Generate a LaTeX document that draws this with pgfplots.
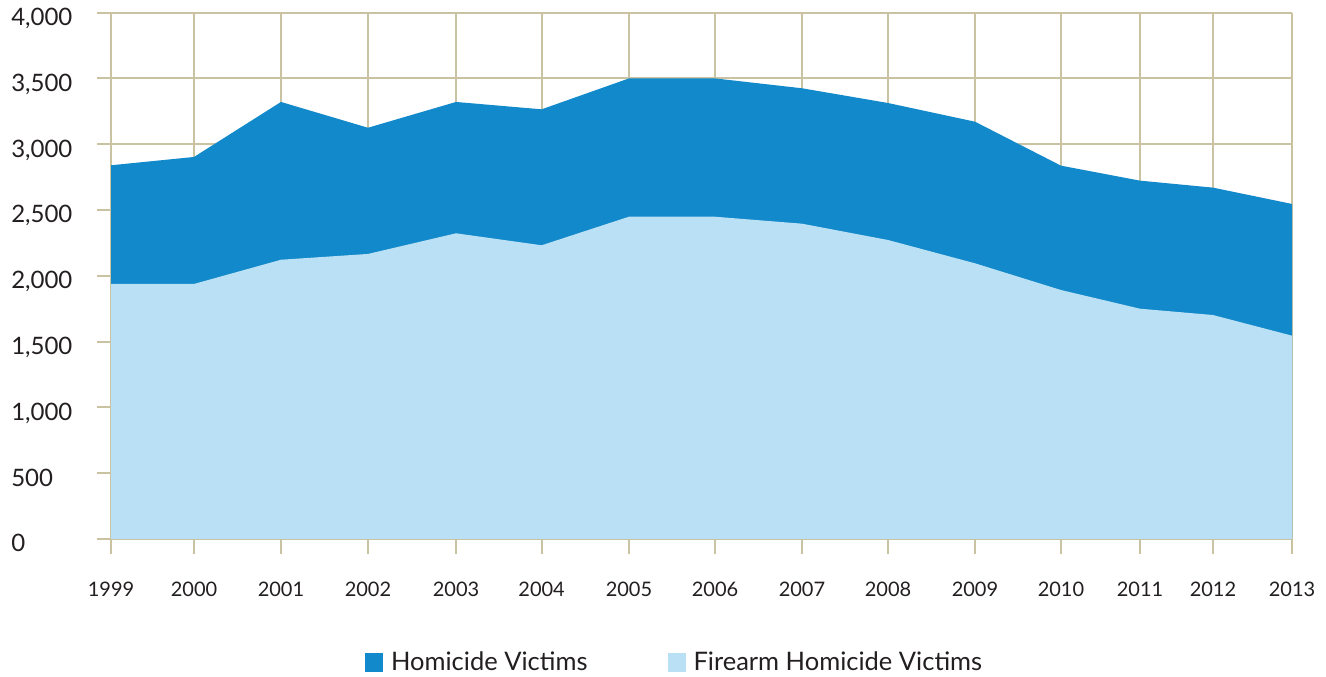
\documentclass[border=0pt]{standalone}
\usepackage{fontspec}
\setmainfont{Lato}
\usepackage{pgfplots}
\pgfplotsset{compat=1.18}
\definecolor{darkblue}{HTML}{1289CA}
\definecolor{lightblue}{HTML}{BAE0F5}
\definecolor{gridtan}{HTML}{C9C3A1}
\definecolor{txt}{HTML}{231F20}
\pgfplotstableread{
x        hom   fire
1999.000 2840  1938
1999.984 2903  1938
2001.015 3321  2122
2002.046 3125  2166
2003.090 3321  2323
2004.105 3265  2232
2005.140 3500  2449
2006.160 3500  2449
2007.191 3425  2396
2008.211 3313  2272
2009.242 3171  2095
2010.261 2837  1892
2011.198 2723  1750
2012.063 2670  1702
2013.000 2546  1545
}\datatable
\begin{document}
\begin{tikzpicture}
\useasboundingbox (0,0) rectangle (1326pt,677pt);
\begin{axis}[
  at={(97pt,138pt)}, anchor=south west,
  scale only axis, width=1195pt, height=526.4pt,
  xmin=1998.834, xmax=2013, ymin=0, ymax=4000,
  xtick={1999.000,1999.984,2001.015,2002.046,2003.090,2004.105,2005.140,2006.160,2007.191,2008.211,2009.242,2010.261,2011.198,2012.063,2013.000},
  xticklabels={1999,2000,2001,2002,2003,2004,2005,2006,2007,2008,2009,2010,2011,2012,2013},
  ytick={0,500,...,4000},
  grid=major,
  grid style={draw=gridtan, line width=2pt},
  axis line style={draw=none},
  xtick pos=left, ytick pos=left,
  tick align=outside,
  major tick length=15pt,
  xtick style={draw=gridtan, line width=2pt},
  ytick style={draw=none},
  /pgf/number format/assume math mode=true,
  /pgf/number format/1000 sep={,},
  yticklabel style={font=\fontsize{24}{28}\selectfont, anchor=base west, inner sep=0pt, xshift=-71pt, yshift=-13pt, text=txt},
  xticklabel style={font=\fontsize{20}{24}\selectfont, inner sep=0pt, anchor=base, yshift=-42.5pt, text=txt},
  legend style={at={(0.2243,-0.2337)}, anchor=west, draw=none, fill=none,
    inner sep=0pt, outer sep=0pt, legend columns=2,
    font=\fontsize{25.5}{30}\selectfont, text=txt,
    /tikz/every even column/.append style={column sep=80pt},
    /tikz/every odd column/.append style={column sep=8pt},
    nodes={inner sep=0pt}},
  legend image code/.code={\fill[#1] (0pt,-9.5pt) rectangle (18pt,9.5pt);},
]
\addplot[fill=darkblue, draw=none] table[x=x, y=hom] {\datatable} \closedcycle;
\addlegendentry{Homicide Victims}
\addplot[fill=lightblue, draw=none] table[x=x, y=fire] {\datatable} \closedcycle;
\addlegendentry{Firearm Homicide Victims}
\end{axis}
\end{tikzpicture}
\end{document}
